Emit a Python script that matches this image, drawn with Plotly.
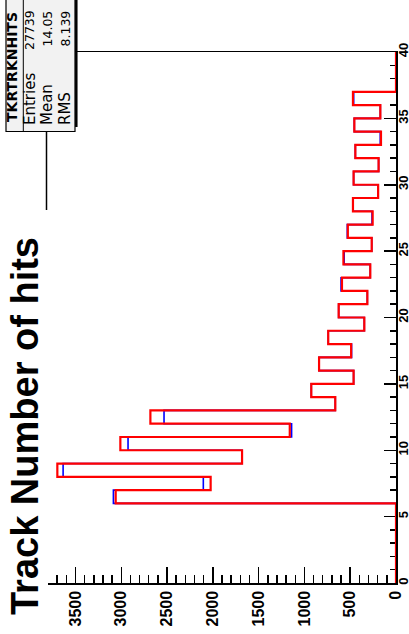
import plotly.graph_objects as go

# ---- data (bin low edges 0..39, unit width) ----
bin_edges = list(range(0, 41))
red_counts = [0, 0, 0, 0, 0, 0,
              3061, 2024, 3698, 1681, 3010, 1160, 2682, 663, 925, 463,
              840, 490, 740, 346, 626, 313, 590, 281, 574, 265,
              526, 255, 470, 195, 463, 190, 444, 164, 455, 171,
              470, 0, 0, 0]
blue_counts = [0, 0, 0, 0, 0, 0,
               3086, 2104, 3635, 1681, 2926, 1140, 2533, 663, 925, 463,
               840, 485, 740, 346, 626, 313, 600, 281, 566, 265,
               532, 262, 470, 195, 463, 190, 444, 172, 455, 171,
               462, 0, 0, 0]
value_ticks = [0, 500, 1000, 1500, 2000, 2500, 3000, 3500]
bin_ticks = [0, 5, 10, 15, 20, 25, 30, 35, 40]
stat_names = ["Entries", "Mean", "RMS"]
stat_values = ["27739", "14.05", "8.139"]
hist_name = "TKRTRKNHITS"
title_text = "Track Number of hits"

W, H = 409, 634
L, R, T, B = 48, 13, 52, 51
PW, PH = W - L - R, H - T - B


def pxx(px):
    return (px - L) / PW


def pxy(py):
    return (H - B - py) / PH


def step_points(counts):
    xs = list(counts) + [counts[-1]]
    ys = bin_edges
    return xs, ys


fig = go.Figure()
bx, by = step_points(blue_counts)
fig.add_trace(go.Scatter(x=bx, y=by, mode="lines", line_shape="vh",
                         line=dict(color="#0000ff", width=1.6), showlegend=False))
rx, ry = step_points(red_counts)
fig.add_trace(go.Scatter(x=rx, y=ry, mode="lines", line_shape="vh",
                         line=dict(color="#ff0000", width=2.2), showlegend=False))

tickfont = dict(family="Liberation Sans", size=16, color="black", weight="bold")

fig.update_xaxes(range=[3800, 0], tickvals=value_ticks, ticktext=[str(v) for v in value_ticks],
                 ticks="inside", ticklen=16, tickwidth=1.5, tickcolor="black",
                 minor=dict(dtick=100, ticks="inside", ticklen=8, tickwidth=1.5, tickcolor="black"),
                 tickangle=-90, tickfont=tickfont, showline=True, linecolor="black", linewidth=1.5,
                 mirror=True, showgrid=False, zeroline=False, layer="below traces", automargin=False)
fig.update_yaxes(range=[0, 40], tickvals=bin_ticks, ticktext=[str(v) for v in bin_ticks], side="right",
                 ticks="inside", ticklen=12, tickwidth=1.5, tickcolor="black",
                 minor=dict(dtick=1, ticks="inside", ticklen=6, tickwidth=1.5, tickcolor="black"),
                 tickangle=-90, tickfont=dict(family="Liberation Sans", size=13, color="black", weight="bold"),
                 ticklabelstandoff=-5,
                 showline=True, linecolor="black", linewidth=1.5, showgrid=False, zeroline=False,
                 layer="below traces", automargin=False)

shapes = [
    # visible part of the frame edge at the value maximum
    dict(type="line", xref="paper", yref="paper", x0=pxx(46.5), x1=pxx(46.5), y0=pxy(132), y1=pxy(210),
         line=dict(color="black", width=1.5), layer="above"),
    # stats box
    dict(type="rect", xref="paper", yref="paper", x0=pxx(6), x1=pxx(75), y0=pxy(-5), y1=pxy(131.5),
         fillcolor="#f2f2f2", line=dict(color="black", width=1.2), layer="above"),
    dict(type="line", xref="paper", yref="paper", x0=pxx(76.3), x1=pxx(76.3), y0=pxy(-5), y1=pxy(127),
         line=dict(color="black", width=2.5), layer="above"),
    dict(type="line", xref="paper", yref="paper", x0=pxx(23.3), x1=pxx(23.3), y0=pxy(-5), y1=pxy(131.5),
         line=dict(color="black", width=1), layer="above"),
]

annotations = [
    dict(text=title_text, xref="paper", yref="paper", x=pxx(25), y=pxy(426), textangle=-90,
         showarrow=False, xanchor="center", yanchor="middle",
         font=dict(family="Liberation Sans", size=38, color="black", weight="bold")),
    dict(text=hist_name, xref="paper", yref="paper", x=pxx(12.5), y=pxy(67.5), textangle=-90,
         showarrow=False, xanchor="center", yanchor="middle",
         font=dict(family="DejaVu Sans", size=14, color="black", weight="bold")),
]
row_x = [29.5, 47, 65]
for name, val, cx in zip(stat_names, stat_values, row_x):
    annotations.append(dict(text=name, xref="paper", yref="paper", x=pxx(cx), y=pxy(127.5), textangle=-90,
                            showarrow=False, xanchor="center", yanchor="bottom",
                            font=dict(family="DejaVu Sans", size=15, color="black")))
    annotations.append(dict(text=val, xref="paper", yref="paper", x=pxx(cx), y=pxy(8.5), textangle=-90,
                            showarrow=False, xanchor="center", yanchor="top",
                            font=dict(family="DejaVu Sans", size=12.5, color="black")))

fig.update_layout(width=W, height=H, margin=dict(l=L, r=R, t=T, b=B, pad=0, autoexpand=False),
                  plot_bgcolor="white", paper_bgcolor="white",
                  shapes=shapes, annotations=annotations, showlegend=False)

fig.write_html("out.html", config={"displayModeBar": False, "staticPlot": True},
               post_script="document.body.style.margin='0';document.body.style.padding='0';"
                           "document.body.style.overflow='hidden';")
